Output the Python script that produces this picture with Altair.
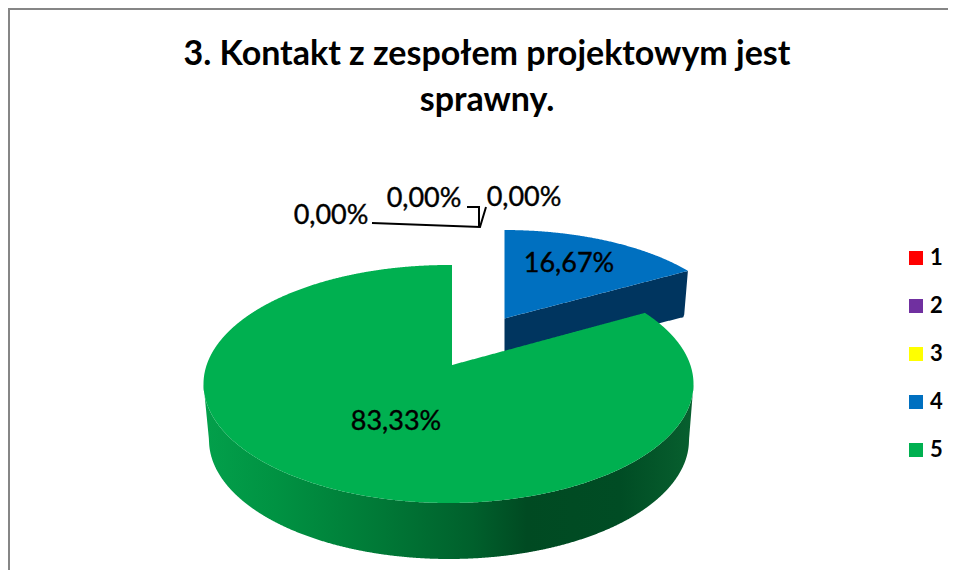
import altair as alt
import numpy as np
import pandas as pd

categories = ["1", "2", "3", "4", "5"]
values = [0.0, 0.0, 0.0, 16.67, 83.33]
colors = ["#FF0000", "#7030A0", "#FFFF00", "#0070C0", "#00B050"]
title_lines = ["3. Kontakt z zespołem projektowym jest", "sprawny."]
FONT = "Lato"

def lab(v):
    return f"{v:.2f}".replace(".", ",") + "%"

W, H = 940, 562
X = alt.Scale(domain=[8, 8 + W], range=[0, W], nice=False, zero=False)
Y = alt.Scale(domain=[8, 8 + H], range=[0, H], nice=False, zero=False)

# projection of the tilted pie
tip = np.radians(360 * values[3] / 100 * 0.888)
cx, cy, rx, ry = 448.5, 384.0, 245.0, 119.0      # green top face
bx, by, brx, bry = 449.0, 440.0, 240.0, 119.0    # green bottom rim
apex = (452.0, 365.0)
gtip = (cx + rx * np.sin(tip), cy - ry * np.cos(tip))

def ell(x, c, r, k):
    return np.sqrt(np.clip(1 - ((x - c) / r) ** 2, 0, 1)) * k

# green top face
xs = cx + rx * np.cos(np.linspace(np.pi, 0, 900))
xs = np.sort(np.concatenate([xs, [apex[0] - 0.001, apex[0], gtip[0] - 0.001, gtip[0]]]))
upper = cy - ell(xs, cx, rx, ry)
inner = (xs >= apex[0]) & (xs < gtip[0])
upper[inner] = apex[1] + (xs[inner] - apex[0]) * (gtip[1] - apex[1]) / (gtip[0] - apex[0])
green_top = pd.DataFrame({"x": xs, "y": upper, "y2": cy + ell(xs, cx, rx, ry)})

# green side wall
wx = cx + rx * np.cos(np.linspace(np.pi, 0, 900))
wx = np.sort(wx)
w_top = cy + ell(wx, cx, rx, ry)
w_bot = by + ell(wx, bx, brx, bry)
left = wx < bx - brx
right = wx > bx + brx
w_bot[left] = cy + (wx[left] - (cx - rx)) / ((bx - brx) - (cx - rx)) * (by - cy)
w_bot[right] = cy + ((cx + rx) - wx[right]) / ((cx + rx) - (bx + brx)) * (by - cy)
green_wall = pd.DataFrame({"x": wx, "y": w_top, "y2": w_bot})

# blue slice, pulled out
b0x, b0y, b_rx, b_ry = 504.0, 331.7, 229.4, 101.7
b_apex = (506.0, 318.0)
b_tip = (b0x + b_rx * np.sin(tip), b0y - b_ry * np.cos(tip))
bxs = np.linspace(b0x + 0.5, b_tip[0], 200)
line = b_apex[1] + (bxs - b_apex[0]) * (b_tip[1] - b_apex[1]) / (b_tip[0] - b_apex[0])
blue_top = pd.DataFrame({"x": bxs, "y": b0y - ell(bxs, b0x, b_rx, b_ry), "y2": line})
low = 317.0 + (684.0 - bxs) * 0.25
cut = bxs > 684.0
low[cut] = 317.0 + (bxs[cut] - 684.0) / (b_tip[0] - 684.0) * (b_tip[1] - 317.0)
blue_wall = pd.DataFrame({"x": bxs, "y": line, "y2": low})

side_grad = alt.Gradient(
    gradient="linear", x1=0, x2=1, y1=0, y2=0,
    stops=[
        alt.GradientStop(offset=0.0, color="#03A04B"),
        alt.GradientStop(offset=0.15, color="#009242"),
        alt.GradientStop(offset=0.35, color="#007A37"),
        alt.GradientStop(offset=0.55, color="#00602C"),
        alt.GradientStop(offset=0.66, color="#004A22"),
        alt.GradientStop(offset=0.85, color="#004C24"),
        alt.GradientStop(offset=1.0, color="#08602F"),
    ],
)

def area(df, color):
    return alt.Chart(df).mark_area(color=color, interpolate="linear", clip=False).encode(
        x=alt.X("x:Q", scale=X, axis=None),
        y=alt.Y("y:Q", scale=Y, axis=None),
        y2="y2:Q",
    )

def path(xv, yv):
    d = pd.DataFrame({"x": xv, "y": yv, "o": range(len(xv))})
    return alt.Chart(d).mark_line(color="#000000", strokeWidth=2).encode(
        x=alt.X("x:Q", scale=X, axis=None),
        y=alt.Y("y:Q", scale=Y, axis=None),
        order="o:Q",
    )

labels = pd.DataFrame({
    "x": [331, 424, 524, 569, 396],
    "y": [216, 199, 198, 264, 422],
    "t": [lab(v) for v in values],
})
text = alt.Chart(labels).mark_text(
    font=FONT, fontSize=27, color="#000000", stroke="#000000", strokeWidth=0.4
).encode(
    x=alt.X("x:Q", scale=X, axis=None),
    y=alt.Y("y:Q", scale=Y, axis=None),
    text="t:N",
)

legend_src = pd.DataFrame({"c": categories})
legend_layer = alt.Chart(legend_src).mark_square(opacity=0, size=10).encode(
    x=alt.value(0), y=alt.value(0),
    color=alt.Color(
        "c:N",
        scale=alt.Scale(domain=categories, range=colors),
        legend=alt.Legend(
            title=None, orient="none", legendX=897, legendY=238,
            symbolType="square", symbolSize=196, symbolOpacity=1, symbolStrokeWidth=0,
            labelFont=FONT, labelFontSize=22, labelFontWeight="bold", labelColor="#000000",
            labelOffset=3, clipHeight=24, rowPadding=24, padding=0,
        ),
    ),
)

frame_l = alt.Chart(legend_src).mark_rule(color="#868686", strokeWidth=3).encode(
    x=alt.value(0.5), y=alt.value(0), y2=alt.value(H))
frame_t = alt.Chart(legend_src).mark_rule(color="#868686", strokeWidth=3).encode(
    x=alt.value(0), x2=alt.value(W), y=alt.value(0.5))

chart = alt.layer(
    frame_l, frame_t,
    area(blue_wall, "#00355F"),
    area(blue_top, colors[3]),
    area(green_wall, side_grad),
    area(green_top, colors[4]),
    path([372, 480, 486], [223, 227, 207]),
    path([467, 479, 479], [207, 207, 227]),
    text,
    legend_layer,
).properties(
    width=W, height=H, padding=0,
    autosize=alt.AutoSizeParams(type="none"),
    title=alt.TitleParams(
        text=title_lines, anchor="middle", frame="group", font=FONT, fontSize=34,
        fontWeight="bold", color="#000000", lineHeight=46, dx=9, dy=143,
        baseline="alphabetic",
    ),
).configure_view(stroke=None).configure(background="#FFFFFF")

chart.save("out.html", embed_options={"renderer": "svg", "actions": False})
